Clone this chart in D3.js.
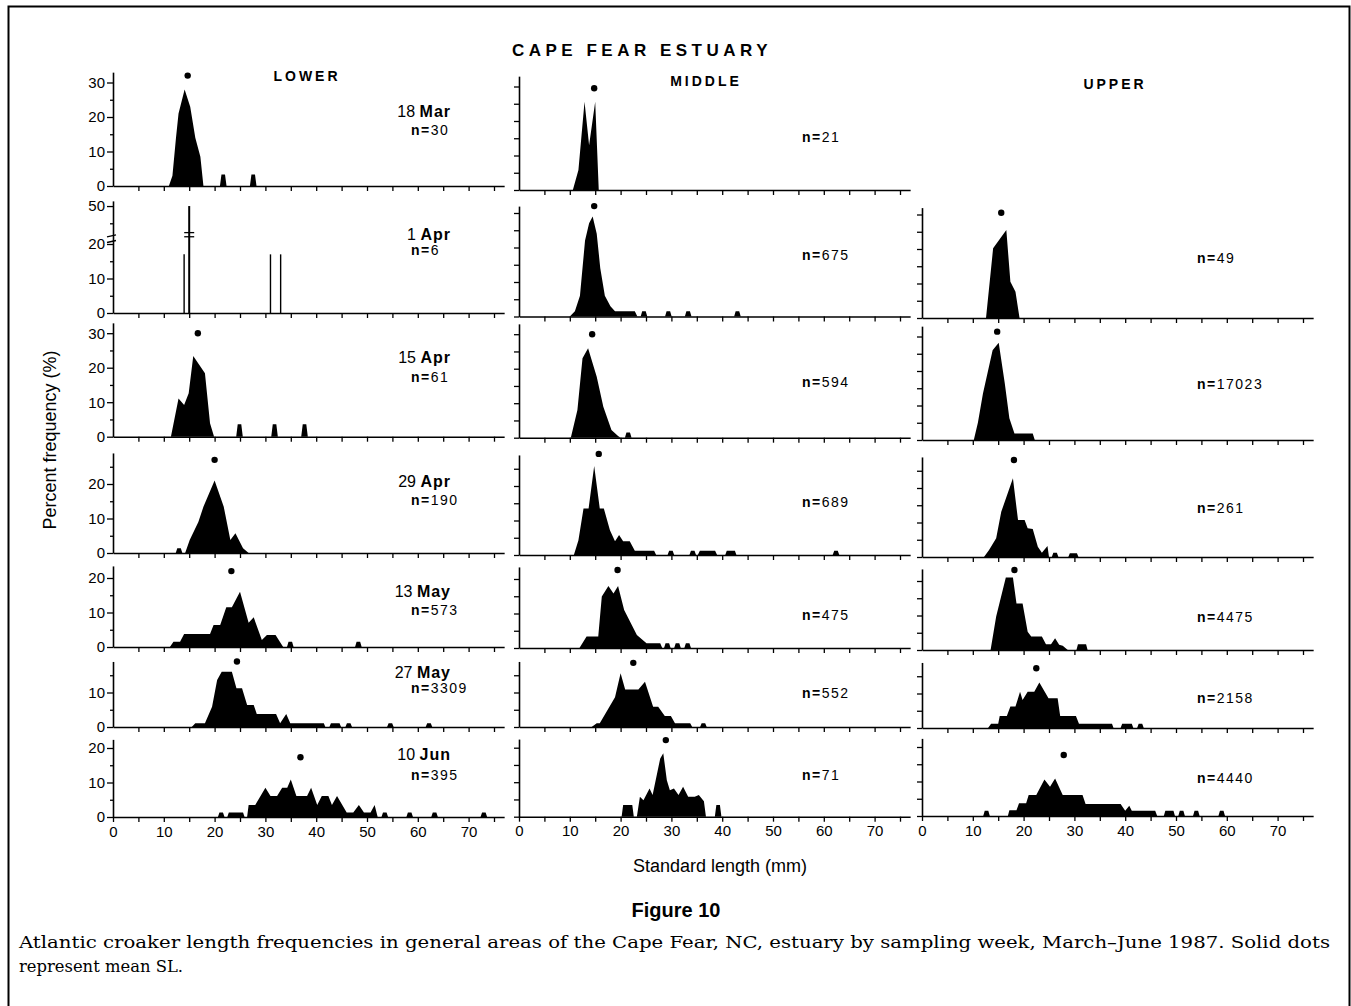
<!DOCTYPE html>
<html>
<head>
<meta charset="utf-8">
<script src="https://cdn.jsdelivr.net/npm/d3@7"></script>
<style>
  body { margin: 0; background: #fff; }
  svg { display: block; }
</style>
</head>
<body>
<div id="chart"></div>
<script>
// small single-fish mound on the baseline, in (mm, %) units
const b = (m, p) => [[m - 0.65, 0], [m - 0.35, p], [m + 0.35, p], [m + 0.65, 0]];

const regions = ["LOWER", "MIDDLE", "UPPER"];
const weeks = ["18 Mar", "1 Apr", "15 Apr", "29 Apr", "13 May", "27 May", "10 Jun"];
const nLower = [30, 6, 61, 190, 573, 3309, 395];
const nMiddle = [21, 675, 594, 689, 475, 552, 71];
const nUpper = [null, 49, 17023, 261, 4475, 2158, 4440];

// mean SL (mm) and the height (%) its dot sits at
const meanLower = [14.7, null, 16.7, 20.0, 23.3, 24.4, 36.9];
const meanMiddle = [14.8, 14.8, 14.4, 15.7, 19.4, 22.5, 28.9];
const meanUpper = [null, 15.6, 14.8, 18.1, 18.2, 22.5, 27.9];
const dotLower = [32, null, 30, 27, 22, 19, 17.3];
const dotMiddle = [29.5, 32, 30, 29.3, 22.6, 18.6, 22.2];
const dotUpper = [null, 30.5, 31.4, 28.1, 23.2, 17.3, 17.7];

// y axis extent per row (%)
const yTop = [33, 32, 33, 29, 23.5, 19, 22.5];
const xLabels = [0, 10, 20, 30, 40, 50, 60, 70];

// lower estuary, 1 Apr: n=6, drawn as spikes (mm, %)
const spikesLowerApr1 = [[14, 17], [15, 50], [31, 17], [33, 17]];

// frequency polygons (mm, %)
const freqLower = [
  [[11, 0], [11.7, 3], [12.4, 14], [12.9, 21], [14.1, 28], [15.2, 23], [16.2, 14], [17.2, 8.5], [17.8, 0], ...b(21.7, 3.3), ...b(27.6, 3.3)],
  null,
  [[11.4, 0], [12.9, 11.1], [14, 9.2], [14.9, 12.6], [15.8, 23.4], [18.1, 18.4], [19.1, 3.9], [19.9, 0], ...b(24.9, 3.6), ...b(31.8, 3.6), ...b(37.7, 3.6)],
  [...b(13, 1.4), [14.2, 0], [15.1, 3.8], [16.8, 9], [17.8, 13.4], [20, 21], [21.8, 13.4], [23.1, 3.8], [24.1, 5.7], [25.6, 1.4], [26.7, 0]],
  [[11.2, 0], [11.9, 1.5], [13.2, 1.5], [14, 3.8], [19.1, 3.8], [19.8, 6.4], [21.1, 6.4], [22.3, 11.5], [23.4, 11.5], [25, 16], [26.7, 7], [27.7, 8.6], [29.3, 2], [30.3, 3.5], [32, 3.5], [33.5, 0], ...b(34.9, 1.5), ...b(48.3, 1.5)],
  [[15.5, 0], [16.2, 1.1], [18.1, 1.1], [19.5, 5.9], [20.5, 13.6], [21.4, 16], [23.4, 16], [24.3, 11.2], [25.4, 11.2], [26.4, 6.4], [27.7, 6.4], [28.3, 3.8], [32.1, 3.8], [32.9, 1.1], [34.1, 3.8], [34.9, 1.1], [41.5, 1.1], [41.8, 0], [42.6, 0], [42.9, 1.1], [44.6, 1.1], [44.9, 0], ...b(46.4, 1.1), ...b(54.6, 1.1), ...b(62.2, 1.1)],
  [...b(21.3, 1.3), [22.5, 0], [22.8, 1.3], [25.6, 1.3], [25.9, 0], [26.4, 0], [26.7, 3.5], [28, 3.5], [30, 8.5], [31, 6.1], [32.3, 6.1], [33.3, 8.5], [34.3, 8.5], [35, 10.9], [36.1, 6.1], [38.2, 6.1], [39, 8.5], [40.2, 3.5], [41.1, 6.1], [42.4, 6.1], [43.1, 3.5], [44.1, 6.1], [46, 1.3], [47.3, 1.3], [48.4, 3.5], [49.4, 1.3], [50.7, 1.3], [51.5, 3.5], [52.1, 0], ...b(53.5, 1.3), ...b(58.4, 1.3), ...b(63.3, 1.3), ...b(73, 1.3)]
];

const freqMiddle = [
  [[10.6, 0], [11.7, 5.8], [12.9, 25.6], [13.8, 13], [15, 25.6], [15.7, 0]],
  [[10, 0], [11, 1.5], [12, 6], [13, 22], [13.8, 27], [14.5, 29], [15.3, 24], [16, 14], [16.9, 6], [18, 3], [18.9, 1.5], [22.8, 1.5], [23.3, 0], ...b(24.6, 1.5), ...b(29.4, 1.5), ...b(33.3, 1.5), ...b(43, 1.5)],
  [[10.2, 0], [11.5, 8], [12.5, 23], [13.6, 25.9], [15.3, 17.7], [16.6, 9], [18.2, 2.2], [19.5, 0.5], [20, 0], ...b(21.5, 1.5)],
  [[10.8, 0], [11.7, 4.3], [12.7, 13.5], [13.7, 13.5], [14.8, 25.8], [15.9, 13.5], [16.7, 13.5], [17.9, 7.2], [18.9, 4], [19.7, 5.8], [20.5, 4], [21.8, 4], [22.8, 1.2], [26.6, 1.2], [27, 0], ...b(29.9, 1.2), ...b(34.2, 1.2), [35.2, 0], [35.6, 1.2], [38.6, 1.2], [39, 0], [40.6, 0], [40.9, 1.2], [42.5, 1.2], [42.8, 0], ...b(62.4, 1.2)],
  [[11.9, 0], [13.3, 3.3], [15.6, 3.3], [16.3, 14.9], [17.6, 18], [18.6, 15.8], [19.5, 18], [20.7, 11], [23.2, 3.8], [25.1, 1.4], [27.8, 1.4], [28.2, 0], ...b(29.2, 1.4), ...b(31.2, 1.4), ...b(33.2, 1.4)],
  [[14.3, 0], [15.3, 1.1], [15.9, 1.1], [18.9, 8.6], [20, 15.6], [20.9, 10.9], [23.5, 10.9], [24.8, 13.1], [26.4, 5.9], [27.4, 5.9], [28.7, 3.2], [29.9, 3.2], [30.7, 1.1], [33.7, 1.1], [34.1, 0], ...b(36.3, 1.1)],
  [[20.2, 0], [20.5, 3.4], [22.3, 3.4], [22.6, 0], [23.2, 0], [23.8, 5.8], [24.5, 4.8], [25.7, 8.2], [26.3, 6.3], [27.8, 16.9], [28.4, 18.4], [29.1, 10.6], [29.7, 7.7], [30.5, 8.2], [31.4, 6.3], [32.3, 8.7], [33.3, 5.8], [34.6, 5.8], [35.4, 6.3], [36.4, 4.5], [36.8, 0], ...b(39.2, 3.4)]
];

const freqUpper = [
  null,
  [[12.6, 0], [14, 20.2], [16.6, 25.5], [17.4, 10.5], [18.4, 7.6], [19.2, 0]],
  [[10.2, 0], [11, 5], [12, 13.5], [13.9, 26], [15.1, 28.2], [16.3, 16.4], [17.2, 6.3], [18.2, 1.9], [21.8, 1.9], [22.2, 0]],
  [[12.2, 0], [13.2, 2], [14.6, 5.4], [15.6, 13.1], [17.9, 22.8], [18.9, 10.7], [20.2, 10.7], [20.8, 8.3], [21.8, 8.1], [22.8, 3], [23.6, 1.2], [24.7, 3.2], [25, 0], ...b(26.2, 1.2), [28.8, 0], [29.1, 1.1], [30.5, 1.1], [30.8, 0]],
  [[13.5, 0], [14.6, 9.7], [16.5, 21], [17.9, 21], [18.6, 13.5], [19.8, 13.5], [20.8, 5.3], [21.5, 3.9], [23.6, 3.9], [24.4, 1.7], [25.4, 1.7], [26.2, 3.4], [27, 1.5], [27.7, 1.2], [28.7, 0], [30.4, 0], [30.7, 1.7], [32.3, 1.7], [32.6, 0]],
  [[13, 0], [13.6, 1.2], [15, 1.2], [15.3, 3.5], [16.7, 3.5], [17.4, 6.2], [18.4, 6.2], [19.3, 10.5], [19.8, 8.1], [20.8, 10.5], [22.1, 10.5], [23.1, 13.2], [24.9, 8.6], [26.7, 8.6], [27.2, 3.5], [30.3, 3.5], [30.9, 1.2], [37.4, 1.2], [37.7, 0], [39.1, 0], [39.4, 1.2], [41.3, 1.2], [41.6, 0], ...b(43, 1.2)],
  [...b(12.7, 1.5), [16.9, 0], [17.2, 1.7], [18.6, 1.7], [19.1, 3.7], [20.5, 3.7], [21, 6.1], [22.5, 6.1], [24.1, 10.6], [25.2, 8.5], [26.2, 10.9], [27.7, 6.1], [31.6, 6.1], [32.2, 3.5], [39.1, 3.5], [40, 1.5], [40.8, 3], [41.3, 1.5], [45.9, 1.5], [46.3, 0], [47.6, 0], [47.9, 1.5], [49.5, 1.5], [49.8, 0], ...b(51.1, 1.5), ...b(54, 1.5), ...b(59, 1.5)]
];

const freq = [freqLower, freqMiddle, freqUpper];
const means = [meanLower, meanMiddle, meanUpper];
const dots = [dotLower, dotMiddle, dotUpper];
const counts = [nLower, nMiddle, nUpper];

// ---- layout ----
const W = 1351, H = 1006;
const sans = "'Liberation Sans', Arial, sans-serif";
const serif = "'DejaVu Serif', serif";
const colX0 = [113, 519, 922];
const pxPerMm = 5.08;
const pxPerPct = 3.45;
const rowBase = [
  [186, 190, null],
  [313, 316.5, 318],
  [436.7, 437.7, 440],
  [553, 555, 557],
  [647, 648, 650],
  [727, 727, 728],
  [817, 816.7, 816]
];
const dateY = [117, 240, 363, 487, 597, 678, 760];
const nY = [
  [135, 255, 382, 505, 615, 693, 780],
  [142, 260, 387, 507, 620, 698, 780],
  [null, 263, 389, 513, 622, 703, 783]
];
const nX = [411, 802, 1197];

const svg = d3.select("#chart").append("svg")
  .attr("width", W)
  .attr("height", H);

svg.append("rect")
  .attr("x", 8.5).attr("y", 6.5)
  .attr("width", 1341).attr("height", 1100)
  .attr("fill", "none").attr("stroke", "#000").attr("stroke-width", 2);

function drawPanel(col, row) {
  const base = rowBase[row][col];
  if (base == null) return;
  const x0 = colX0[col];
  const x = d3.scaleLinear().domain([0, 77]).range([x0, x0 + 77 * pxPerMm]);
  const broken = col === 0 && row === 1;
  const y = broken
    ? d3.scaleLinear().domain([0, 20, 40, 51.5])
        .range([base, base - 20 * pxPerPct, base - 21 * pxPerPct, base - 32.5 * pxPerPct])
    : d3.scaleLinear().domain([0, yTop[row]]).range([base, base - yTop[row] * pxPerPct]);

  const g = svg.append("g");

  // y axis
  const yt = broken ? [0, 5, 10, 15, 20, 45, 50] : d3.range(0, yTop[row] + 0.01, 5);
  const ya = g.append("g")
    .attr("transform", `translate(${x0},0)`)
    .call(d3.axisLeft(y).tickValues(yt).tickSize(6).tickSizeOuter(0).tickPadding(2)
      .tickFormat(d => col === 0 && d % 10 === 0 ? d : ""));
  ya.selectAll(".tick line").attr("x2", d => col === 0 ? (d % 10 === 0 ? -6 : -3) : -5);

  // x axis
  const last = row === 6;
  const xa = g.append("g")
    .attr("transform", `translate(0,${base})`)
    .call(d3.axisBottom(x).tickValues(last ? d3.range(0, 80, 5) : d3.range(5, 80, 5))
      .tickSize(5).tickSizeOuter(0).tickPadding(4)
      .tickFormat(d => last && xLabels.includes(d) ? d : ""));

  [ya, xa].forEach(a => {
    a.select(".domain").attr("stroke-width", 1.6);
    a.selectAll(".tick line").attr("stroke-width", 1.3);
    a.selectAll("text").attr("font-family", sans).attr("fill", "#000");
  });
  ya.selectAll("text").attr("font-size", 15);
  xa.selectAll("text").attr("font-size", 15);

  // histogram
  const data = freq[col][row];
  if (data) {
    g.append("path")
      .datum(data)
      .attr("d", d3.area().x(d => x(d[0])).y0(base).y1(d => y(d[1])))
      .attr("fill", "#000");
  }

  if (broken) {
    g.selectAll("line.spike")
      .data(spikesLowerApr1)
      .join("line")
      .attr("class", "spike")
      .attr("x1", d => x(d[0])).attr("x2", d => x(d[0]))
      .attr("y1", base).attr("y2", d => y(d[1]))
      .attr("stroke", "#000")
      .attr("stroke-width", d => d[1] > 20 ? 2 : 1.4);
    // break marks on the tall spike and on the axis
    const tall = spikesLowerApr1.find(d => d[1] > 20);
    [42.3, 41.1].forEach(v => {
      g.append("line")
        .attr("x1", x(tall[0]) - 5).attr("x2", x(tall[0]) + 5)
        .attr("y1", y(v)).attr("y2", y(v))
        .attr("stroke", "#000").attr("stroke-width", 1.3);
    });
    [40.6, 20].forEach(v => {
      g.append("line")
        .attr("x1", x0 - 6).attr("x2", x0 + 3)
        .attr("y1", y(v) - 1.5).attr("y2", y(v) - 3.5)
        .attr("stroke", "#000").attr("stroke-width", 1.3);
    });
  }

  // mean dot
  const m = means[col][row];
  if (m != null) {
    g.append("circle")
      .attr("cx", x(m)).attr("cy", y(dots[col][row]))
      .attr("r", 3.2).attr("fill", "#000");
  }

  // n label
  const n = counts[col][row];
  if (n != null) {
    const t = g.append("text")
      .attr("x", nX[col]).attr("y", nY[col][row])
      .attr("font-family", sans).attr("font-size", 14)
      .attr("letter-spacing", 1.5);
    t.append("tspan").attr("font-weight", "bold").text("n=");
    t.append("tspan").text(n);
  }

  // week label (lower column only)
  if (col === 0) {
    const parts = weeks[row].split(" ");
    const t = g.append("text")
      .attr("x", 451).attr("y", dateY[row])
      .attr("text-anchor", "end")
      .attr("font-family", sans).attr("font-size", 16);
    t.append("tspan").text(parts[0] + " ");
    t.append("tspan").attr("font-weight", "bold").attr("letter-spacing", 1).text(parts[1]);
  }
}

for (let row = 0; row < 7; row++) {
  for (let col = 0; col < 3; col++) drawPanel(col, row);
}

// titles
svg.append("text")
  .attr("x", 642).attr("y", 56)
  .attr("text-anchor", "middle")
  .attr("font-family", sans).attr("font-weight", "bold")
  .attr("font-size", 17).attr("letter-spacing", 4.5)
  .text("CAPE FEAR ESTUARY");

const regionPos = [[307, 81], [706, 86], [1115, 89]];
regions.forEach((r, i) => {
  svg.append("text")
    .attr("x", regionPos[i][0]).attr("y", regionPos[i][1])
    .attr("text-anchor", "middle")
    .attr("font-family", sans).attr("font-weight", "bold")
    .attr("font-size", 14).attr("letter-spacing", 3)
    .text(r);
});

svg.append("text")
  .attr("transform", "translate(56,440) rotate(-90)")
  .attr("text-anchor", "middle")
  .attr("font-family", sans).attr("font-size", 18)
  .text("Percent frequency (%)");

svg.append("text")
  .attr("x", 720).attr("y", 872)
  .attr("text-anchor", "middle")
  .attr("font-family", sans).attr("font-size", 18)
  .text("Standard length (mm)");

svg.append("text")
  .attr("x", 676).attr("y", 917)
  .attr("text-anchor", "middle")
  .attr("font-family", sans).attr("font-weight", "bold")
  .attr("font-size", 20)
  .text("Figure 10");

// caption: wide serif, first line stretched to the full measure
svg.append("text")
  .attr("x", 19).attr("y", 948)
  .attr("font-family", serif).attr("font-size", 17)
  .attr("textLength", 1311).attr("lengthAdjust", "spacingAndGlyphs")
  .text("Atlantic croaker length frequencies in general areas of the Cape Fear, NC, estuary by sampling week, March\u2013June 1987. Solid dots");

svg.append("text")
  .attr("x", 19).attr("y", 972)
  .attr("font-family", serif).attr("font-size", 17)
  .attr("textLength", 164).attr("lengthAdjust", "spacingAndGlyphs")
  .text("represent mean SL.");
</script>
</body>
</html>
